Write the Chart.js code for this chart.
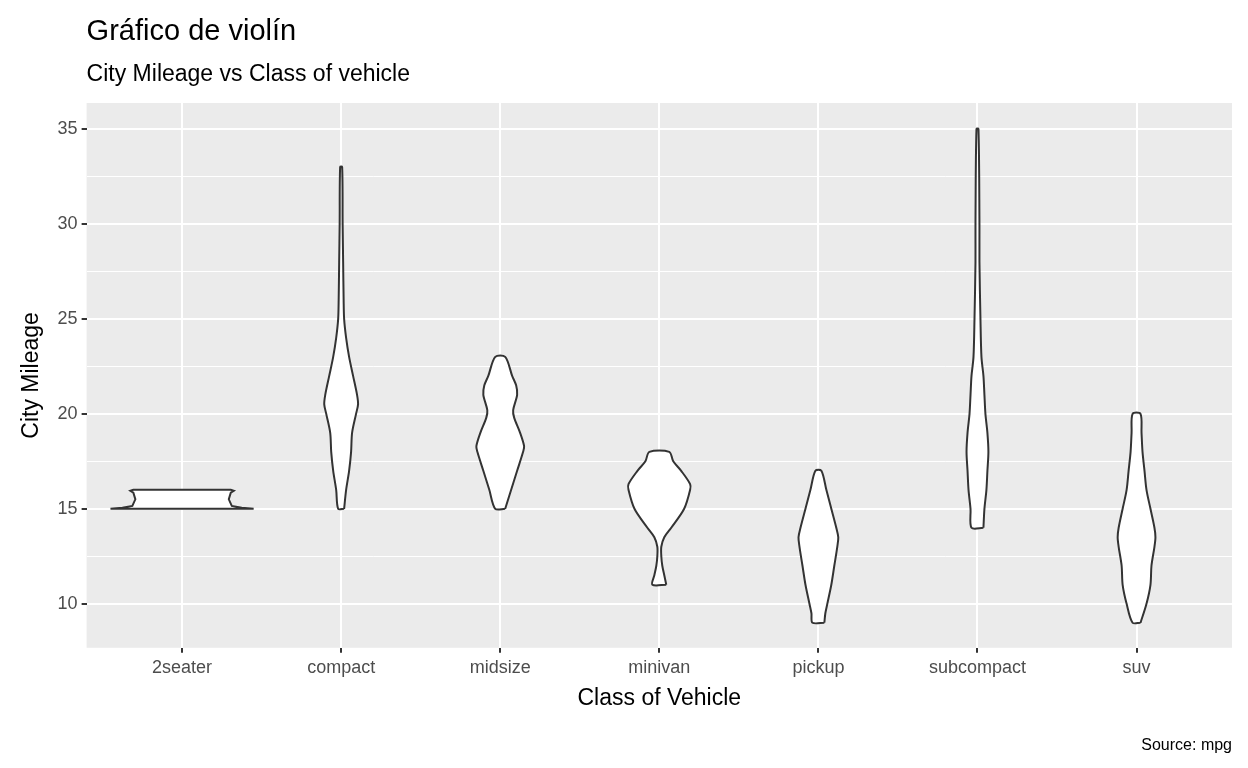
<!DOCTYPE html>
<html>
<head>
<meta charset="utf-8">
<script src="https://cdn.jsdelivr.net/npm/chart.js@4"></script>
<style>
  html, body { margin: 0; padding: 0; background: #fff; }
  #wrap { width: 1248px; height: 768px; }
</style>
</head>
<body>
<div id="wrap"><canvas id="violin"></canvas></div>
<script>
// カテゴリ（車のクラス）
const classes = ['2seater', 'compact', 'midsize', 'minivan', 'pickup', 'subcompact', 'suv'];

// 各クラスの y 値（City Mileage）と相対密度（2seater の最大値 = 72）
const seaterY = [15, 15.05, 15.15, 15.5, 15.85, 15.95, 16];
const seaterD = [72, 60, 50, 47, 49, 52, 49];
const compactY = [15, 16, 17, 18, 19, 20, 20.5, 21, 22, 23, 24, 25, 26, 28, 30, 33];
const compactD = [3, 5, 8, 10, 11, 15, 17, 16, 12, 8, 5, 3, 2.5, 2, 1.5, 1];
const midsizeY = [15, 16, 17, 18, 18.3, 19, 19.8, 20.2, 21, 21.5, 22, 23];
const midsizeD = [5, 11, 17, 23, 24, 20, 14, 13, 17, 16, 12, 5];
const minivanY = [11, 11.5, 12, 12.5, 13, 13.5, 14, 15, 16, 16.3, 17, 17.5, 18];
const minivanD = [7, 5, 3, 2, 2, 5, 12, 25, 31, 31, 22, 14, 10];
const pickupY = [9, 9.5, 10, 11, 12, 13, 13.5, 14, 15, 16, 17];
const pickupD = [6, 7, 9, 13, 16, 19, 20, 18, 13, 8, 3];
const subcompactY = [14, 15, 16, 17, 18, 19, 20, 21, 22, 23, 25, 28, 30, 35];
const subcompactD = [6, 7, 9, 10, 11, 10, 8, 7, 6, 4, 3, 2, 2, 1];
const suvY = [9, 10, 11, 12, 13, 13.5, 14, 15, 16, 17, 18, 19, 20];
const suvD = [4, 10, 14, 15, 18, 19, 18, 14, 10, 8, 6, 5, 4];

const violinY = [seaterY, compactY, midsizeY, minivanY, pickupY, subcompactY, suvY];
const violinD = [seaterD, compactD, midsizeD, minivanD, pickupD, subcompactD, suvD];
const densityScale = 0.45 / 72;

// 閉じた多角形としてバイオリンを作成
function violinPoints(i) {
  const c = i + 1, ys = violinY[i], ds = violinD[i];
  const right = ys.map((y, k) => ({ x: c + ds[k] * densityScale, y }));
  const left = ys.map((y, k) => ({ x: c - ds[k] * densityScale, y })).reverse();
  return right.concat(left, [right[0]]);
}

const datasets = classes.map((name, i) => ({
  label: name,
  data: violinPoints(i),
  showLine: true,
  pointRadius: 0,
  borderColor: '#333333',
  borderWidth: 2,
  backgroundColor: '#ffffff',
  fill: 'shape',
  tension: i === 0 ? 0 : 0.3
}));

const font = "'Liberation Sans', Arial, sans-serif";

// パネル背景・タイトル・出典テキスト
const panelPlugin = {
  id: 'panel',
  beforeDraw(chart) {
    const { ctx, chartArea: a } = chart;
    ctx.save();
    ctx.fillStyle = '#EBEBEB';
    ctx.fillRect(a.left, a.top, a.right - a.left, a.bottom - a.top);
    ctx.restore();
  },
  afterDraw(chart) {
    const { ctx, chartArea: a } = chart;
    ctx.save();
    ctx.fillStyle = '#000';
    ctx.textBaseline = 'alphabetic';
    ctx.textAlign = 'left';
    ctx.font = '29px ' + font;
    ctx.fillText('Gráfico de violín', a.left, 40);
    ctx.font = '23px ' + font;
    ctx.fillText('City Mileage vs Class of vehicle', a.left, 81);
    ctx.font = '16px ' + font;
    ctx.textAlign = 'right';
    ctx.fillText('Source: mpg', a.right, 750);
    ctx.restore();
  }
};

new Chart(document.getElementById('violin'), {
  type: 'scatter',
  data: { datasets },
  plugins: [panelPlugin],
  options: {
    responsive: true,
    maintainAspectRatio: false,
    animation: false,
    layout: { padding: { left: 14, right: 16, top: 103, bottom: 52 } },
    plugins: {
      legend: { display: false },
      tooltip: { enabled: false }
    },
    scales: {
      x: {
        type: 'linear', min: 0.4, max: 7.6,
        afterBuildTicks(axis) { axis.ticks = classes.map((c, i) => ({ value: i + 1 })); },
        ticks: {
          callback: v => classes[v - 1], color: '#4D4D4D',
          font: { family: font, size: 18 }, padding: 4, maxRotation: 0
        },
        grid: { color: '#ffffff', lineWidth: 2, tickColor: '#333333', tickLength: 5 },
        border: { display: false },
        title: { display: true, text: 'Class of Vehicle', color: '#000', font: { family: font, size: 23 }, padding: { top: 2 } }
      },
      y: {
        type: 'linear', min: 7.68, max: 36.37,
        afterBuildTicks(axis) {
          axis.ticks = [7.5, 10, 12.5, 15, 17.5, 20, 22.5, 25, 27.5, 30, 32.5, 35]
            .filter(v => v >= axis.min && v <= axis.max).map(v => ({ value: v }));
        },
        ticks: {
          callback: v => (v % 5 === 0 ? v : ''), color: '#4D4D4D',
          font: { family: font, size: 18 }, padding: 4
        },
        grid: {
          color: '#ffffff',
          lineWidth: c => (c.tick && c.tick.value % 5 === 0 ? 2 : 1),
          tickColor: c => (c.tick && c.tick.value % 5 === 0 ? '#333333' : 'rgba(0,0,0,0)'),
          tickLength: 5
        },
        border: { display: false },
        title: { display: true, text: 'City Mileage', color: '#000', font: { family: font, size: 23 }, padding: { bottom: 8 } }
      }
    }
  }
});
</script>
</body>
</html>
